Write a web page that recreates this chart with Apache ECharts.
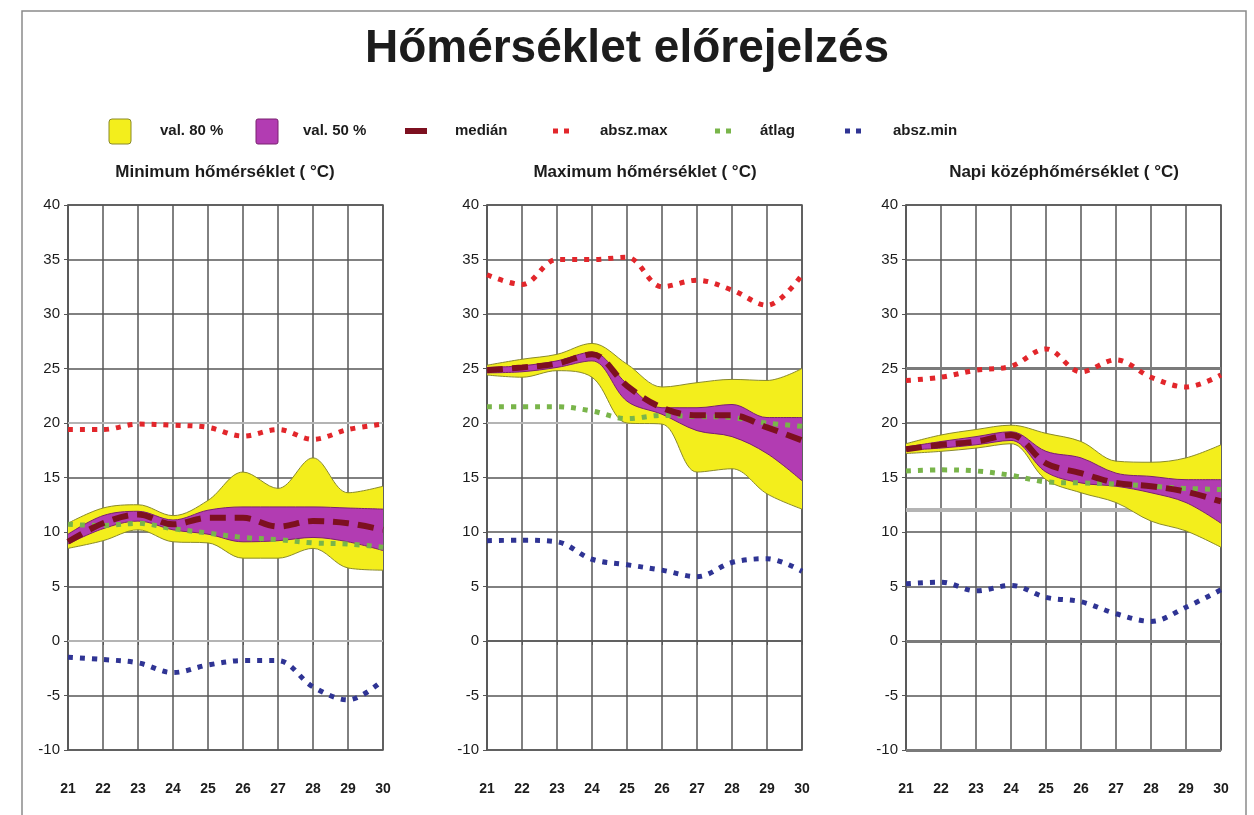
<!DOCTYPE html>
<html>
<head>
<meta charset="utf-8">
<title>Hőmérséklet előrejelzés</title>
<script src="https://cdn.jsdelivr.net/npm/echarts@6/dist/echarts.min.js"></script>
<style>
  html, body { margin: 0; padding: 0; background: #fff; }
  #chart { width: 1254px; height: 815px; }
</style>
</head>
<body>
<div id="chart"></div>
<script>
// napok
const days = ['21', '22', '23', '24', '25', '26', '27', '28', '29', '30'];
const yTicks = { min: -10, max: 40, step: 5 };

// Minimum hőmérséklet
const minHi80 = [10.8, 12.2, 12.5, 11.5, 12.9, 15.5, 14.0, 16.8, 13.6, 14.2];
const minLo80 = [8.5, 9.2, 10.2, 9.1, 9.0, 7.6, 7.6, 8.5, 6.7, 6.5];
const minHi50 = [9.8, 11.5, 11.9, 11.1, 12.0, 12.3, 12.3, 12.3, 12.2, 12.1];
const minLo50 = [8.9, 10.3, 11.0, 10.2, 9.8, 9.1, 9.2, 9.5, 9.1, 8.3];
const minMed = [9.1, 10.8, 11.6, 10.7, 11.3, 11.3, 10.5, 11.0, 10.8, 10.2];
const minAvg = [10.7, 10.6, 10.8, 10.3, 9.9, 9.5, 9.3, 9.0, 8.9, 8.6];
const minAbsMax = [19.4, 19.4, 19.9, 19.8, 19.6, 18.8, 19.4, 18.5, 19.4, 19.9];
const minAbsMin = [-1.5, -1.7, -2.0, -2.9, -2.2, -1.8, -1.8, -4.2, -5.4, -3.6];
const minRef = [20, 0];

// Maximum hőmérséklet
const maxHi80 = [25.3, 25.85, 26.3, 27.3, 25.4, 23.3, 23.7, 24.0, 23.9, 25.0];
const maxLo80 = [24.4, 24.2, 24.8, 24.2, 20.0, 19.9, 15.5, 15.8, 13.5, 12.1];
const maxHi50 = [25.1, 25.25, 25.7, 26.5, 23.6, 21.4, 21.4, 21.7, 20.5, 20.5];
const maxLo50 = [24.6, 24.7, 25.1, 25.7, 22.0, 20.8, 19.3, 18.75, 17.2, 14.7];
const maxMed = [24.85, 25.1, 25.45, 26.3, 23.4, 21.4, 20.7, 20.7, 19.6, 18.4];
const maxAvg = [21.5, 21.5, 21.5, 21.1, 20.4, 20.7, 20.6, 20.5, 20.0, 19.7];
const maxAbsMax = [33.6, 32.7, 35.0, 35.0, 35.2, 32.5, 33.1, 32.2, 30.8, 33.6];
const maxAbsMin = [9.2, 9.25, 9.1, 7.5, 7.0, 6.5, 5.9, 7.2, 7.55, 6.4];
const maxRef = [20];

// Napi középhőmérséklet
const midHi80 = [18.1, 18.9, 19.4, 19.8, 19.05, 18.3, 16.5, 16.4, 16.8, 18.0];
const midLo80 = [17.2, 17.4, 17.7, 18.1, 14.8, 13.6, 12.7, 11.0, 10.1, 8.6];
const midHi50 = [17.8, 18.3, 18.75, 19.2, 17.4, 16.8, 15.4, 15.1, 14.8, 14.8];
const midLo50 = [17.5, 17.7, 18.0, 18.4, 15.5, 14.5, 14.2, 13.6, 12.7, 10.8];
const midMed = [17.6, 18.0, 18.3, 18.9, 16.3, 15.4, 14.5, 14.2, 13.7, 12.8];
const midAvg = [15.6, 15.7, 15.6, 15.2, 14.6, 14.5, 14.4, 14.2, 14.0, 13.9];
const midAbsMax = [23.9, 24.2, 24.85, 25.2, 26.8, 24.7, 25.8, 24.2, 23.3, 24.4];
const midAbsMin = [5.25, 5.4, 4.6, 5.1, 4.0, 3.6, 2.5, 1.8, 3.1, 4.7];
const midRefDark = [25, 0, -10];
const midRefLight = [12];

const titles = ['Minimum hőmérséklet ( °C)', 'Maximum hőmérséklet ( °C)', 'Napi középhőmérséklet ( °C)'];
const legendLabels = ['val. 80 %', 'val. 50 %', 'medián', 'absz.max', 'átlag', 'absz.min'];

const C = {
  yellow: '#f3ee1c',
  yellowEdge: '#8a8a2a',
  magenta: '#b23cb2',
  magentaEdge: '#7a2070',
  median: '#7d1020',
  red: '#e2262b',
  green: '#79b54a',
  blue: '#2f3494',
  grid: '#575757',
  text: '#1c1c1c'
};
const FONT = '"Liberation Sans", Arial, sans-serif';

const panels = [
  { hi80: minHi80, lo80: minLo80, hi50: minHi50, lo50: minLo50, med: minMed, avg: minAvg, amax: minAbsMax, amin: minAbsMin, refLight: minRef, refDark: [] },
  { hi80: maxHi80, lo80: maxLo80, hi50: maxHi50, lo50: maxLo50, med: maxMed, avg: maxAvg, amax: maxAbsMax, amin: maxAbsMin, refLight: maxRef, refDark: [] },
  { hi80: midHi80, lo80: midLo80, hi50: midHi50, lo50: midLo50, med: midMed, avg: midAvg, amax: midAbsMax, amin: midAbsMin, refLight: midRefLight, refDark: midRefDark }
];

const gridLeft = [68, 487, 906];
const diff = (hi, lo) => hi.map((v, i) => Math.round((v - lo[i]) * 100) / 100);

const grids = [];
const xAxes = [];
const yAxes = [];
const series = [];

panels.forEach((p, i) => {
  grids.push({ left: gridLeft[i], top: 205, width: 315, height: 545, show: true, borderColor: C.grid, borderWidth: 1.5 });
  xAxes.push({
    type: 'category', gridIndex: i, data: days, boundaryGap: false,
    axisLine: { lineStyle: { color: C.grid, width: 1.5 } },
    axisTick: { show: true, length: 4, lineStyle: { color: C.grid } },
    axisLabel: { margin: 32, color: C.text, fontSize: 14, fontWeight: 'bold', fontFamily: FONT },
    splitLine: { show: true, interval: 0, lineStyle: { color: C.grid, width: 1.5 } }
  });
  yAxes.push({
    type: 'value', gridIndex: i, min: yTicks.min, max: yTicks.max, interval: yTicks.step,
    axisLine: { show: true, lineStyle: { color: C.grid, width: 1.5 } },
    axisTick: { show: true, length: 4, lineStyle: { color: C.grid } },
    axisLabel: { margin: 8, color: C.text, fontSize: 15, fontFamily: FONT },
    splitLine: { lineStyle: { color: C.grid, width: 1.5 } }
  });

  const common = { xAxisIndex: i, yAxisIndex: i, type: 'line', symbol: 'none', smooth: 0.35, silent: true };

  // referencia vonalak
  const refLines = [];
  p.refLight.forEach(v => refLines.push({ yAxis: v, lineStyle: { color: '#b4b4b4', width: i === 2 ? 4 : 2, type: 'solid' } }));
  p.refDark.forEach(v => refLines.push({ yAxis: v, lineStyle: { color: '#7a7a7a', width: 3, type: 'solid' } }));

  series.push(Object.assign({}, common, {
    name: 'base80', stack: 'b80_' + i, data: p.lo80, z: 3,
    lineStyle: { color: C.yellowEdge, width: 1 },
    markLine: { symbol: 'none', silent: true, label: { show: false }, data: refLines, z: 1 }
  }));
  series.push(Object.assign({}, common, {
    name: 'val. 80 %', stack: 'b80_' + i, data: diff(p.hi80, p.lo80), z: 2,
    lineStyle: { color: C.yellowEdge, width: 1 },
    areaStyle: { color: C.yellow, opacity: 1 }
  }));
  series.push(Object.assign({}, common, {
    name: 'base50', stack: 'b50_' + i, data: p.lo50, z: 3,
    lineStyle: { color: C.magentaEdge, width: 1 }
  }));
  series.push(Object.assign({}, common, {
    name: 'val. 50 %', stack: 'b50_' + i, data: diff(p.hi50, p.lo50), z: 3,
    lineStyle: { color: C.magentaEdge, width: 1 },
    areaStyle: { color: C.magenta, opacity: 1 }
  }));
  series.push(Object.assign({}, common, {
    name: 'átlag', data: p.avg, z: 4,
    lineStyle: { color: C.green, width: 5, type: [5, 7], cap: 'butt' }
  }));
  series.push(Object.assign({}, common, {
    name: 'medián', data: p.med, z: 5,
    lineStyle: { color: C.median, width: 6, type: [16, 9], cap: 'butt' }
  }));
  series.push(Object.assign({}, common, {
    name: 'absz.max', data: p.amax, z: 4,
    lineStyle: { color: C.red, width: 5, type: [5, 7], cap: 'butt' }
  }));
  series.push(Object.assign({}, common, {
    name: 'absz.min', data: p.amin, z: 4,
    lineStyle: { color: C.blue, width: 5, type: [5, 7], cap: 'butt' }
  }));
});

// jelmagyarázat
const legendY = 131;
const legendGraphic = [
  { type: 'rect', shape: { x: 109, y: 119, width: 22, height: 25, r: 3 }, style: { fill: C.yellow, stroke: C.yellowEdge, lineWidth: 1 } },
  { type: 'rect', shape: { x: 256, y: 119, width: 22, height: 25, r: 2 }, style: { fill: C.magenta, stroke: C.magentaEdge, lineWidth: 1 } },
  { type: 'line', shape: { x1: 405, y1: legendY, x2: 427, y2: legendY }, style: { stroke: C.median, lineWidth: 6 } },
  { type: 'line', shape: { x1: 553, y1: legendY, x2: 569, y2: legendY }, style: { stroke: C.red, lineWidth: 5, lineDash: [5, 6] } },
  { type: 'line', shape: { x1: 715, y1: legendY, x2: 731, y2: legendY }, style: { stroke: C.green, lineWidth: 5, lineDash: [5, 6] } },
  { type: 'line', shape: { x1: 845, y1: legendY, x2: 861, y2: legendY }, style: { stroke: C.blue, lineWidth: 5, lineDash: [5, 6] } }
];
const legendTextX = [160, 303, 455, 600, 760, 893];
legendLabels.forEach((t, k) => {
  legendGraphic.push({
    type: 'text', x: legendTextX[k], y: legendY,
    style: { text: t, fill: C.text, font: 'bold 15px ' + FONT, textVerticalAlign: 'middle' }
  });
});

const titleCenters = [225, 645, 1064];
const panelTitles = titles.map((t, k) => ({
  type: 'text', x: titleCenters[k], y: 172,
  style: { text: t, fill: C.text, font: 'bold 17px ' + FONT, textAlign: 'center', textVerticalAlign: 'middle' }
}));

const option = {
  animation: false,
  backgroundColor: '#fff',
  title: {
    text: 'Hőmérséklet előrejelzés',
    left: 'center', top: 21,
    textStyle: { fontSize: 46, fontWeight: 'bold', color: C.text, fontFamily: FONT }
  },
  grid: grids,
  xAxis: xAxes,
  yAxis: yAxes,
  series: series,
  graphic: [
    { type: 'rect', shape: { x: 22, y: 11, width: 1224, height: 840 }, style: { fill: 'none', stroke: '#8a8a8a', lineWidth: 1.5 }, silent: true }
  ].concat(legendGraphic, panelTitles)
};

const chart = echarts.init(document.getElementById('chart'), null, { renderer: 'canvas' });
chart.setOption(option);
</script>
</body>
</html>
